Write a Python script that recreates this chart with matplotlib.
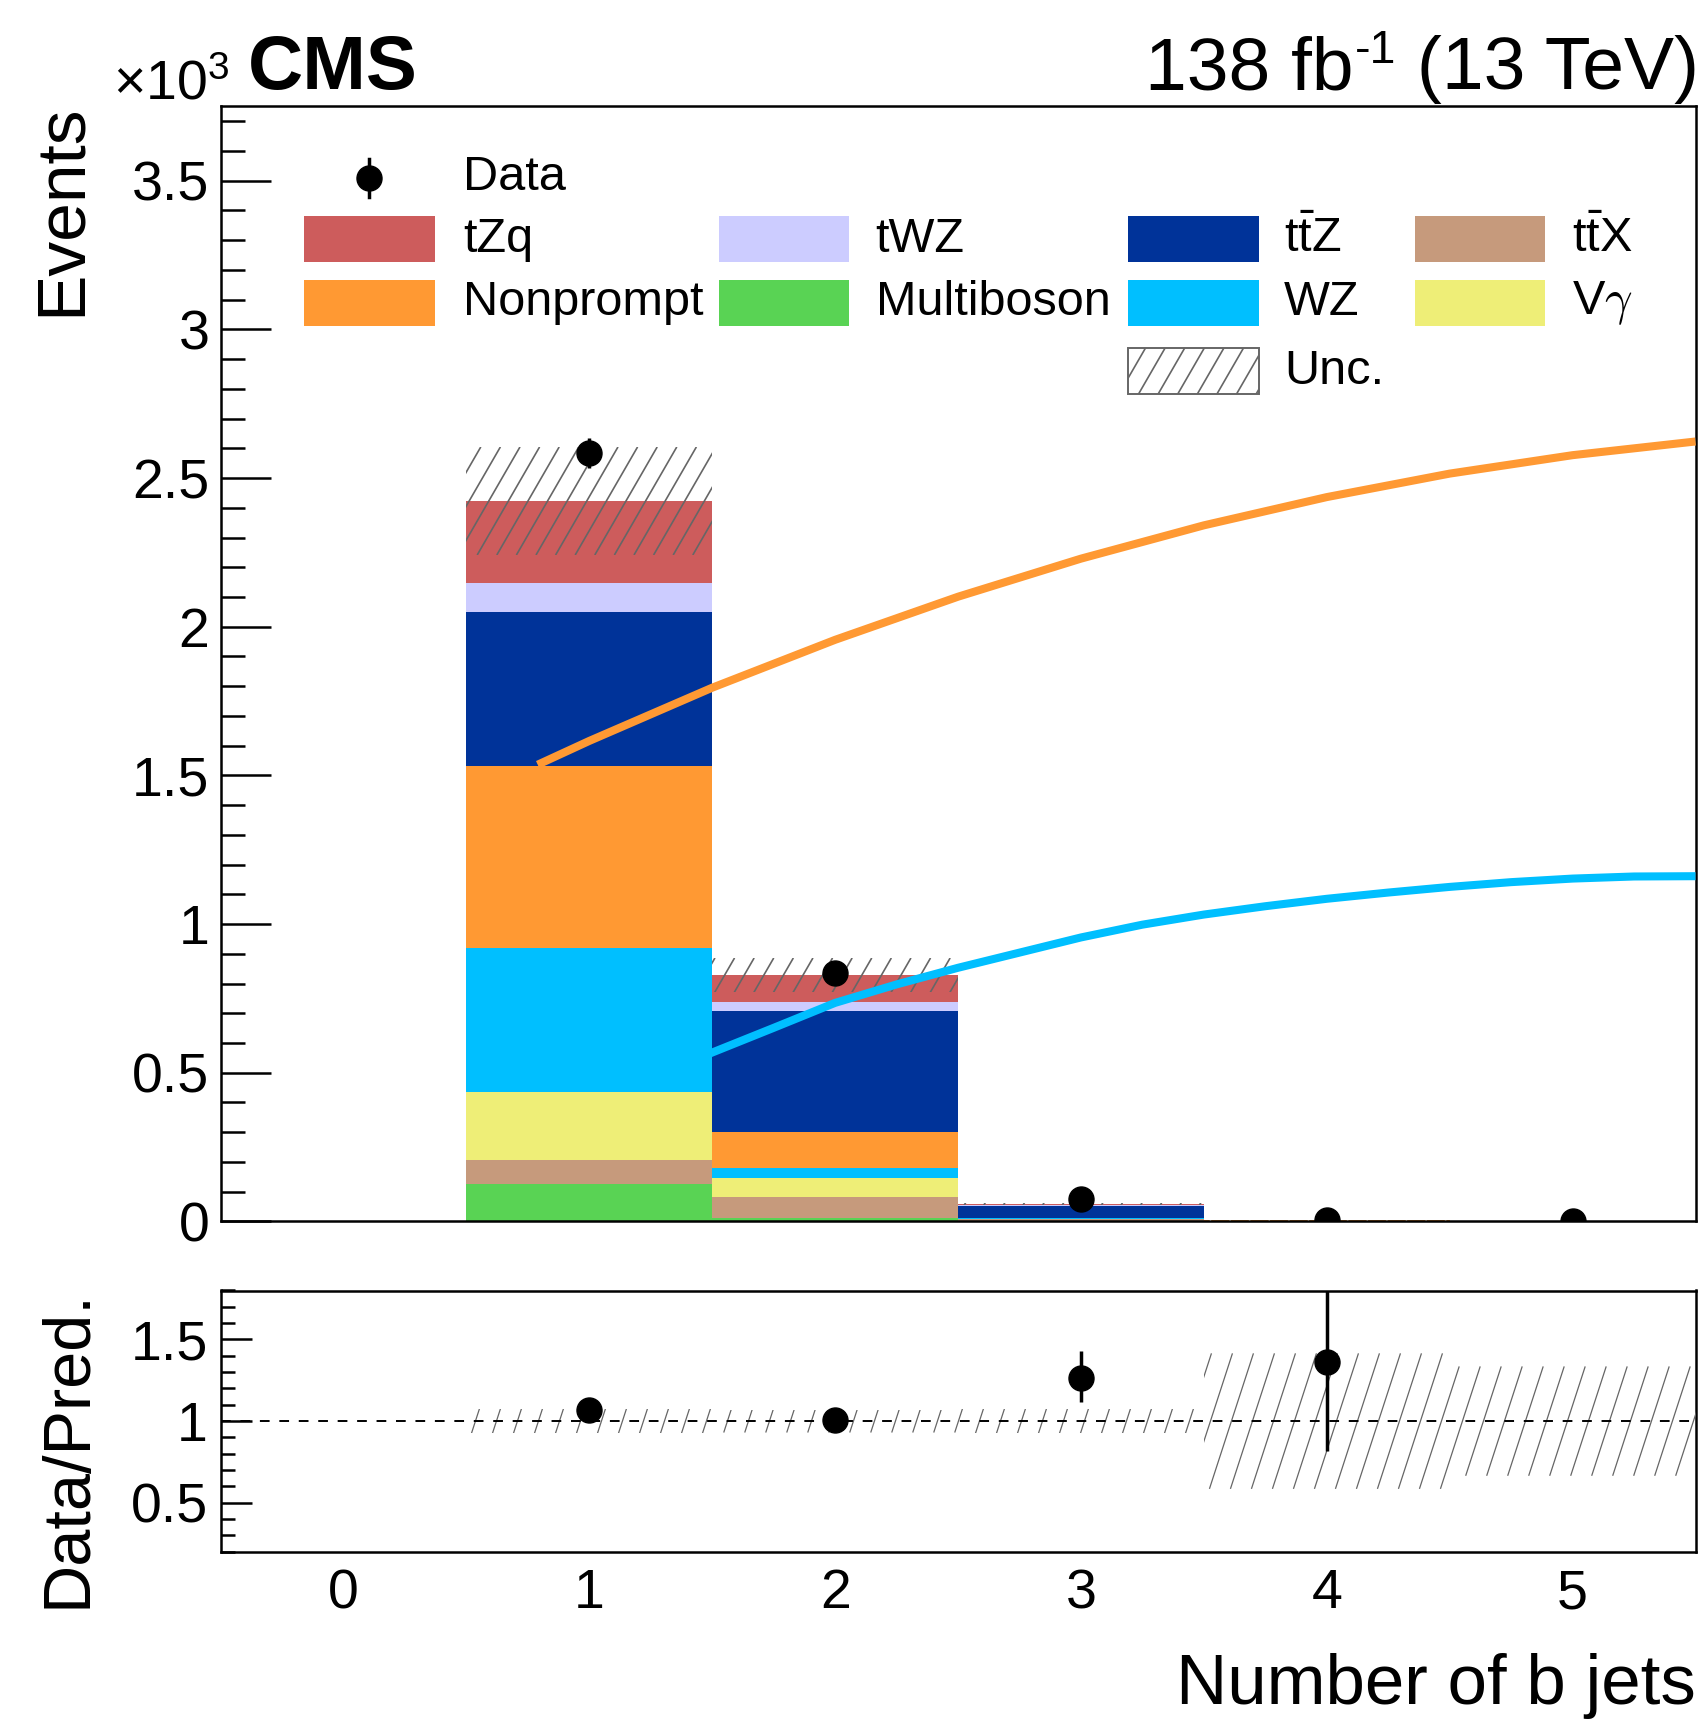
import numpy as np
import matplotlib
matplotlib.use("Agg")
import matplotlib.pyplot as plt
from matplotlib.patches import Rectangle
from matplotlib.lines import Line2D
from matplotlib.transforms import IdentityTransform
from matplotlib.ticker import MultipleLocator, FuncFormatter

plt.rcParams["font.family"] = ["Liberation Sans", "DejaVu Sans"]
plt.rcParams["mathtext.fontset"] = "custom"
plt.rcParams["mathtext.rm"] = "Liberation Sans"
plt.rcParams["mathtext.it"] = "Liberation Sans:italic"
plt.rcParams["mathtext.bf"] = "Liberation Sans:bold"

# ---------------- data ----------------
n_bjets = [0, 1, 2, 3, 4, 5]
bin_edges = [-0.5, 0.5, 1.5, 2.5, 3.5, 4.5, 5.5]

# stacked backgrounds, bottom to top (events)
multiboson = [0, 126, 12.5, 2.0, 0.3, 0.05]
ttx        = [0, 81, 69.5, 6.0, 0.4, 0.05]
vgamma     = [0, 227, 65, 1.0, 0.2, 0.02]
wz         = [0, 486, 32.5, 1.5, 0.3, 0.05]
nonprompt  = [0, 613, 120.5, 2.0, 2.8, 0.25]
ttz        = [0, 515, 408, 39.5, 0.3, 0.05]
twz        = [0, 98, 30, 2.5, 0.05, 0.01]
tzq        = [0, 277, 90, 4.0, 0.05, 0.02]

data        = [np.nan, 2584, 835, 74, 6, 0]
data_err_lo = [0, 51, 29, 8.6, 2.4, 0]
data_err_hi = [0, 52, 30, 9.6, 3.6, 0]

# relative total uncertainty on the prediction
unc_rel = [0, 0.075, 0.07, 0.075, 0.415, 0.335]

# overlaid smooth shapes (events)
np_shape_x = [0.79, 1.0, 1.5, 2.0, 2.5, 3.0, 3.5, 4.0, 4.5, 5.0, 5.5]
np_shape_y = [1536, 1616, 1795, 1956, 2101, 2229, 2341, 2436, 2515, 2577, 2623]
wz_shape_x = [1.25, 1.5, 1.75, 2.0, 2.25, 2.5, 2.75, 3.0, 3.25, 3.5, 3.75,
              4.0, 4.25, 4.5, 4.75, 5.0, 5.25, 5.5]
wz_shape_y = [480, 568, 651, 735, 797, 853, 904, 955, 998, 1032, 1060,
              1085, 1106, 1125, 1141, 1153, 1160, 1161]

VG_LABEL = r"V$\gamma$"
stack = [
    ("Multiboson", multiboson, "#59D354"),
    (r"t$\bar{\mathrm{t}}$X", ttx, "#C69A7C"),
    (VG_LABEL, vgamma, "#EEEE77"),
    ("WZ", wz, "#00BFFF"),
    ("Nonprompt", nonprompt, "#FF9933"),
    (r"t$\bar{\mathrm{t}}$Z", ttz, "#003399"),
    ("tWZ", twz, "#CCCCFF"),
    ("tZq", tzq, "#CD5C5C"),
]
colors = {name: c for name, _, c in stack}

W, H = 1701, 1721
fig = plt.figure(figsize=(W / 100, H / 100), dpi=100)

AX_L, AX_R = 220.6, 1695.5
MAIN_T, MAIN_B = 106.4, 1221.4
RAT_T, RAT_B = 1290.5, 1551.7


def frac_rect(l, t, r, b):
    return [l / W, 1 - b / H, (r - l) / W, (b - t) / H]


ax = fig.add_axes(frac_rect(AX_L, MAIN_T, AX_R, MAIN_B))
rax = fig.add_axes(frac_rect(AX_L, RAT_T, AX_R, RAT_B))

ax.set_xlim(-0.5, 5.5)
ax.set_ylim(0, 3750)
rax.set_xlim(-0.5, 5.5)
rax.set_ylim(0.2, 1.8)

HATCH_COLOR = "#666666"


def hatch_box(x0, y0, x1, y1, clip, angle, spacing, lw, zorder, add):
    """Draw slanted hatch lines (pixel space) clipped to a patch."""
    if y1 < y0:
        y0, y1 = y1, y0
    t = np.tan(np.radians(angle))
    dx = (y1 - y0) / t
    c = np.floor((x0 - dx - y0 / t) / spacing) * spacing
    while c + y0 / t <= x1:
        xa = c + y0 / t
        ln = Line2D([xa, xa + dx], [y0, y1], color=HATCH_COLOR, lw=lw,
                    transform=IdentityTransform(), zorder=zorder,
                    solid_capstyle="butt")
        add(ln)
        ln.set_clip_path(clip)
        c += spacing


def hatch_data(a, x0, x1, lo, hi, angle, spacing, lw):
    rect = Rectangle((x0, lo), x1 - x0, hi - lo, transform=a.transData)
    p0 = a.transData.transform((x0, lo))
    p1 = a.transData.transform((x1, hi))
    hatch_box(p0[0], p0[1], p1[0], p1[1], rect, angle, spacing, lw, 3,
              a.add_artist)


# ---------------- main panel ----------------
bottom = np.zeros(len(n_bjets))
for name, vals, col in stack:
    v = np.asarray(vals, float)
    ax.stairs(bottom + v, bin_edges, baseline=bottom, fill=True,
              color=col, lw=0, zorder=1)
    bottom = bottom + v
pred = bottom

for i, b in enumerate(n_bjets):
    if pred[i] <= 0:
        continue
    lo = pred[i] * (1 - unc_rel[i])
    hi = pred[i] * (1 + unc_rel[i])
    hatch_data(ax, bin_edges[i], bin_edges[i + 1], lo, hi, 60, 19.6, 1.2)

ax.plot(np_shape_x, np_shape_y, color="#FF9933", lw=5.8,
        solid_capstyle="butt", solid_joinstyle="round", zorder=4)
ax.plot(wz_shape_x, wz_shape_y, color="#00BFFF", lw=5.8,
        solid_capstyle="butt", solid_joinstyle="round", zorder=4)

ax.errorbar(n_bjets, data, yerr=[data_err_lo, data_err_hi], fmt="o",
            color="black", ms=18, elinewidth=2.5, capsize=0, zorder=6)

ax.yaxis.set_major_locator(MultipleLocator(500))
ax.yaxis.set_minor_locator(MultipleLocator(100))
ax.yaxis.set_major_formatter(FuncFormatter(lambda v, p: f"{v / 1000:g}"))
ax.tick_params(axis="y", which="both", direction="in", left=True,
               right=False, labelsize=40, pad=8, width=1.8)
ax.tick_params(axis="y", which="major", length=36)
ax.tick_params(axis="y", which="minor", length=17)
ax.tick_params(axis="x", which="both", bottom=False, top=False,
               labelbottom=False)
for s in ax.spines.values():
    s.set_linewidth(1.8)

# ---------------- ratio panel ----------------
data_arr = np.asarray(data, float)
with np.errstate(divide="ignore", invalid="ignore"):
    ratio = np.where(pred > 0, data_arr / pred, np.nan)
    r_lo = np.where(pred > 0, np.asarray(data_err_lo) / pred, 0)
    r_hi = np.where(pred > 0, np.asarray(data_err_hi) / pred, 0)

for i, b in enumerate(n_bjets):
    if pred[i] <= 0:
        continue
    hatch_data(rax, bin_edges[i], bin_edges[i + 1], 1 - unc_rel[i],
               1 + unc_rel[i], 72, 21, 0.9)

rax.axhline(1.0, color="black", lw=1.4, ls=(0, (5, 5)), zorder=4)
rax.errorbar(n_bjets, ratio, yerr=[r_lo, r_hi], fmt="o", color="black",
             ms=18, elinewidth=2.5, capsize=0, zorder=6)

rax.set_xticks(n_bjets)
rax.set_xticklabels([str(b) for b in n_bjets])
rax.yaxis.set_major_locator(MultipleLocator(0.5))
rax.yaxis.set_minor_locator(MultipleLocator(0.1))
rax.yaxis.set_major_formatter(FuncFormatter(lambda v, p: f"{v:g}"))
rax.tick_params(axis="y", which="both", direction="in", left=True,
                right=False, labelsize=40, pad=9, width=1.8)
rax.tick_params(axis="y", which="major", length=22)
rax.tick_params(axis="y", which="minor", length=10)
rax.tick_params(axis="x", which="both", length=0, labelsize=40, pad=12)
for s in rax.spines.values():
    s.set_linewidth(1.8)

# ---------------- labels ----------------
fig.text(62 / W, 1 - 104 / H, "Events", rotation=90, ha="center",
         va="top", fontsize=50)
fig.text(69 / W, 1 - 1289 / H, "Data/Pred.", rotation=90, ha="center",
         va="top", fontsize=48)
fig.text(AX_R / W, 1 - 1704 / H, "Number of b jets", ha="right",
         va="baseline", fontsize=51)
fig.text(248 / W, 1 - 89 / H, "CMS", ha="left", va="baseline",
         fontsize=55, fontweight="bold")
fig.text(113 / W, 1 - 99 / H, "\u00d710$^{3}$", ha="left", va="baseline",
         fontsize=40)

# luminosity label built from pieces so the exponent keeps a plain hyphen
renderer = fig.canvas.get_renderer()
lumi_fs = 54
x_right = 1699.0
base_y = 1 - 89 / H
t_right = fig.text(x_right / W, base_y, " (13 TeV)", ha="right",
                   va="baseline", fontsize=lumi_fs)
w_right = t_right.get_window_extent(renderer).width
t_sup = fig.text((x_right - w_right) / W, base_y + 26 / H, "-1",
                 ha="right", va="baseline", fontsize=lumi_fs * 0.62)
w_sup = t_sup.get_window_extent(renderer).width
fig.text((x_right - w_right - w_sup - 1) / W, base_y, "138 fb",
         ha="right", va="baseline", fontsize=lumi_fs)

# ---------------- legend ----------------
def fx(x):
    return x / W


def fy(y):
    return 1 - y / H


box_left = [304, 718.8, 1128, 1414.5]
text_x = [463, 875.7, 1284, 1571.5]
box_w, box_h = 130.6, 46
row_y = {"data": 177.5, 1: 239.2, 2: 302.9, 3: 371.0}
LEG_FS = 35

legend_rows = {
    1: ["tZq", "tWZ", r"t$\bar{\mathrm{t}}$Z", r"t$\bar{\mathrm{t}}$X"],
    2: ["Nonprompt", "Multiboson", "WZ", VG_LABEL],
}
for r, names in legend_rows.items():
    yc = row_y[r]
    for j, name in enumerate(names):
        fig.add_artist(Rectangle((fx(box_left[j]), fy(yc + box_h / 2)),
                                 box_w / W, box_h / H,
                                 transform=fig.transFigure,
                                 facecolor=colors[name], lw=0))
        kw = {"math_fontfamily": "cm"} if name == VG_LABEL else {}
        fig.text(fx(text_x[j]), fy(yc), name, ha="left", va="center",
                 fontsize=LEG_FS, **kw)

# data entry
xc = box_left[0] + box_w / 2
yc = row_y["data"]
fig.add_artist(Line2D([fx(xc), fx(xc)], [fy(yc - 19), fy(yc + 19)],
                      transform=fig.transFigure, color="black", lw=2.5))
fig.add_artist(Line2D([fx(xc)], [fy(yc)], transform=fig.transFigure,
                      marker="o", ms=18, color="black", ls="none"))
fig.text(fx(text_x[0]), fy(yc), "Data", ha="left", va="center",
         fontsize=LEG_FS)

# uncertainty entry
yc = row_y[3]
ux0, ux1 = box_left[2], box_left[2] + box_w
uy0, uy1 = H - (yc + box_h / 2), H - (yc - box_h / 2)
unc_rect = Rectangle((ux0, uy0), box_w, box_h, transform=IdentityTransform(),
                     facecolor="none", edgecolor=HATCH_COLOR, lw=1.4)
fig.add_artist(unc_rect)
clip_rect = Rectangle((ux0, uy0), box_w, box_h, transform=IdentityTransform())
hatch_box(ux0, uy0, ux1, uy1, clip_rect, 60, 19.6, 1.2, 3, fig.add_artist)
fig.text(fx(text_x[2]), fy(yc), "Unc.", ha="left", va="center",
         fontsize=LEG_FS)

fig.savefig("out.png", dpi=100)
